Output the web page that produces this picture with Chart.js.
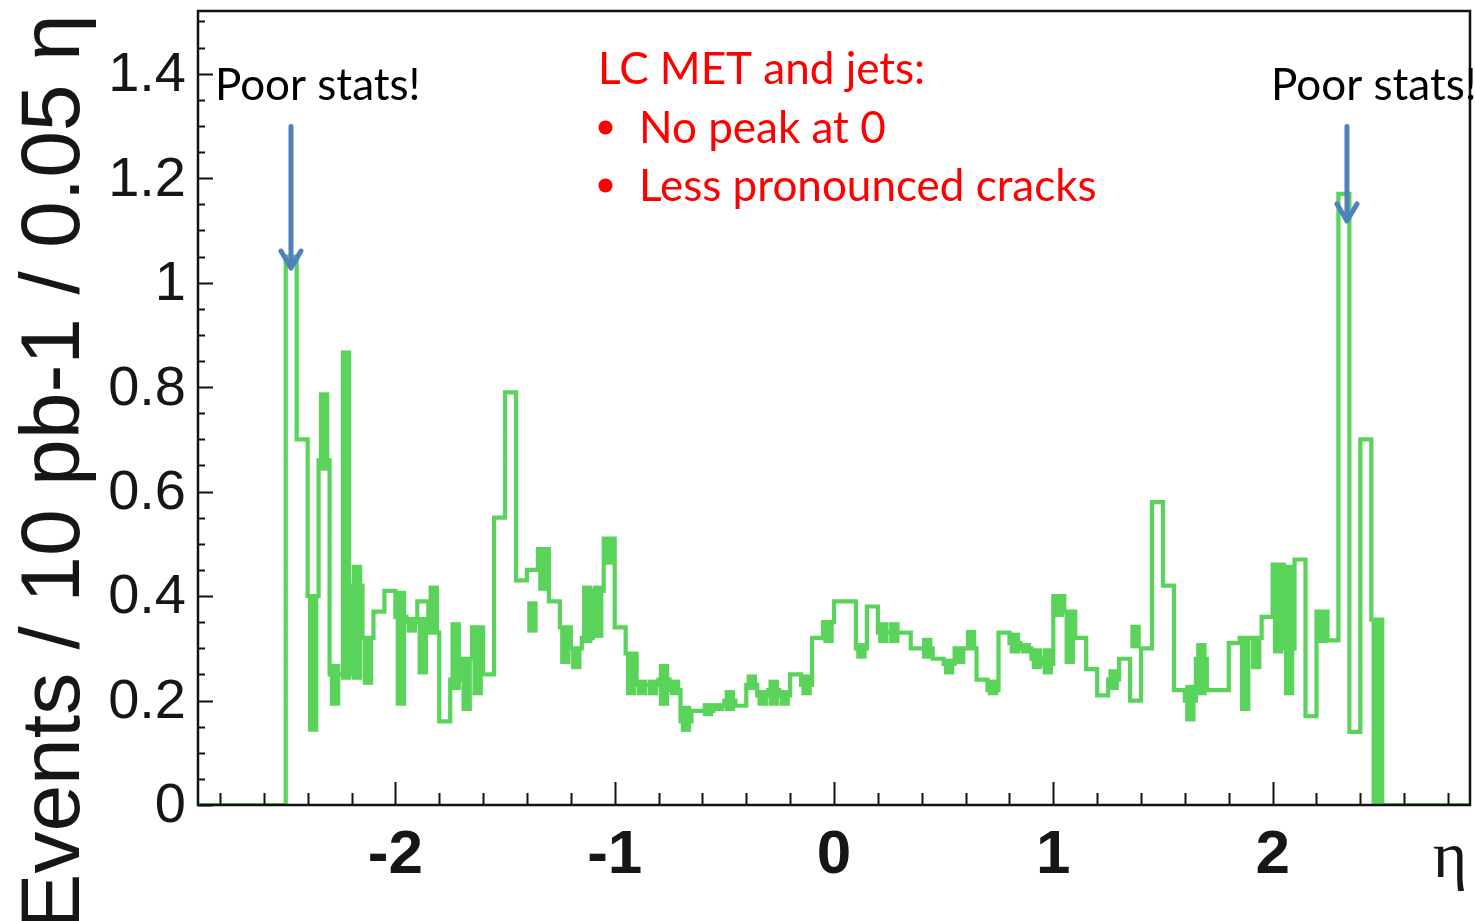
<!DOCTYPE html>
<html>
<head>
<meta charset="utf-8">
<title>LC MET and jets - eta</title>
<script src="https://cdn.jsdelivr.net/npm/chart.js@4.4.0/dist/chart.umd.min.js"></script>
<style>
  html, body { margin: 0; padding: 0; background: #fff; }
  #wrap { position: relative; width: 1475px; height: 921px; }
</style>
</head>
<body>
<div id="wrap"><canvas id="etaChart"></canvas></div>
<script>
// eta binning: 100 bins of 0.05 from -2.5 to 2.5, axis from -2.9 to 2.9
const etaStart = -2.5;
const etaWidth = 0.05;
const etaMin = -2.9;
const etaMax = 2.9;
const yMax = 1.52;

// step height of each bin (events / 10 pb-1 / 0.05 eta)
const events = [
  1.05, 0.70, 0.40, 0.66, 0.25, 0.25, 0.42, 0.32, 0.37, 0.41,
  0.36, 0.35, 0.39, 0.33, 0.16, 0.24, 0.28, 0.34, 0.25, 0.55,
  0.79, 0.43, 0.45, 0.49, 0.39, 0.34, 0.30, 0.32, 0.41, 0.51,
  0.34, 0.29, 0.23, 0.23, 0.24, 0.22, 0.16, 0.18, 0.18, 0.19,
  0.20, 0.19, 0.23, 0.21, 0.22, 0.21, 0.25, 0.23, 0.32, 0.35,
  0.39, 0.39, 0.30, 0.38, 0.33, 0.33, 0.33, 0.30, 0.30, 0.28,
  0.27, 0.30, 0.30, 0.24, 0.22, 0.33, 0.31, 0.30, 0.28, 0.27,
  0.40, 0.37, 0.32, 0.26, 0.21, 0.24, 0.28, 0.20, 0.30, 0.58,
  0.42, 0.22, 0.20, 0.28, 0.22, 0.22, 0.31, 0.32, 0.32, 0.36,
  0.46, 0.30, 0.47, 0.17, 0.37, 0.315, 1.17, 0.14, 0.70, 0.355
];

// bins where the fine structure shows as a solid band: low / high edge
const bandLow = [
  null, null, 0.14, 0.64, 0.19, 0.24, 0.24, 0.23, null, null,
  0.19, 0.33, 0.25, 0.33, null, 0.22, 0.18, 0.21, null, null,
  null, null, 0.33, 0.41, null, 0.27, 0.26, 0.31, 0.32, 0.46,
  null, 0.21, 0.21, 0.21, 0.19, 0.21, 0.14, null, 0.17, 0.18,
  0.18, null, 0.22, 0.19, 0.19, 0.19, null, 0.21, null, 0.31,
  null, null, 0.28, null, 0.31, 0.31, null, null, 0.28, null,
  0.25, 0.27, 0.30, null, 0.21, null, 0.29, 0.29, 0.26, 0.25,
  0.36, 0.27, null, null, null, 0.22, null, 0.30, null, null,
  null, null, 0.16, 0.21, null, null, null, 0.18, 0.26, null,
  0.29, 0.21, null, null, 0.31, null, null, null, null, 0
];
const bandHigh = [
  null, null, 0.40, 0.79, 0.27, 0.87, 0.46, 0.32, null, null,
  0.41, 0.36, 0.36, 0.42, null, 0.35, 0.28, 0.34, null, null,
  null, null, 0.39, 0.49, null, 0.34, 0.30, 0.42, 0.42, 0.51,
  null, 0.29, 0.24, 0.24, 0.27, 0.24, 0.19, null, 0.195, 0.195,
  0.22, null, 0.25, 0.22, 0.24, 0.22, null, 0.25, null, 0.35,
  null, null, 0.31, null, 0.35, 0.35, null, null, 0.32, null,
  0.28, 0.30, 0.335, null, 0.24, null, 0.33, 0.31, 0.30, 0.30,
  0.40, 0.37, null, null, null, 0.26, null, 0.345, null, null,
  null, null, 0.23, 0.31, null, null, null, 0.32, 0.32, null,
  0.46, 0.46, null, null, 0.37, null, null, null, null, 0.355
];

const yTicks = [0, 0.2, 0.4, 0.6, 0.8, 1, 1.2, 1.4];
const yTickLabels = ['0', '0.2', '0.4', '0.6', '0.8', '1', '1.2', '1.4'];
const xTicks = [-2, -1, 0, 1, 2];
const xTickLabels = ['-2', '-1', '0', '1', '2'];

const yTitle = 'Events / 10 pb-1 / 0.05 \u03b7';
const xTitle = '\u03b7';

// annotations in data coordinates
const notes = [
  { text: 'Poor stats!', x: -2.823, y: 1.349, color: '#000' },
  { text: 'Poor stats!', x: 1.993, y: 1.349, color: '#000' },
  { text: 'LC MET and jets:', x: -1.076, y: 1.380, color: '#ff0000' },
  { text: 'No peak at 0', x: -0.889, y: 1.268, color: '#ff0000' },
  { text: 'Less pronounced cracks', x: -0.889, y: 1.157, color: '#ff0000' }
];
const bullets = [
  { x: -1.042, y: 1.297 },
  { x: -1.042, y: 1.186 }
];
const arrows = [
  { x: -2.476, from: 1.299, to: 1.028 },
  { x: 2.339, from: 1.299, to: 1.118 }
];

const green = '#5ad35a';

// histogram outline as step points at bin lower edges
const stepPoints = [{ x: etaMin, y: 0 }];
events.forEach((v, i) => {
  stepPoints.push({ x: etaStart + i * etaWidth, y: v });
});
stepPoints.push({ x: etaStart + events.length * etaWidth, y: 0 });
stepPoints.push({ x: etaMax, y: 0 });

// solid bands as floating bars at bin centres
const bandPoints = [];
bandLow.forEach((lo, i) => {
  if (lo === null) return;
  bandPoints.push({ x: etaStart + (i + 0.5) * etaWidth, y: [lo, bandHigh[i]] });
});

// ROOT style frame, inward ticks, labels and notes
const rootAxes = {
  id: 'rootAxes',
  afterDraw(chart) {
    const { ctx, chartArea: a, scales: { x, y } } = chart;
    ctx.save();

    // ticks
    ctx.strokeStyle = '#111';
    ctx.lineWidth = 2;
    ctx.beginPath();
    for (let i = 0; i <= 30; i++) {
      const py = Math.round(y.getPixelForValue(i * 0.05)) + 0.5;
      const len = i % 4 === 0 ? 15 : 7;
      ctx.moveTo(a.left, py);
      ctx.lineTo(a.left + len, py);
    }
    for (let i = -14; i <= 14; i++) {
      const px = Math.round(x.getPixelForValue(i * 0.2)) + 0.5;
      const len = i % 5 === 0 ? 23 : 12;
      ctx.moveTo(px, a.bottom);
      ctx.lineTo(px, a.bottom - len);
    }
    ctx.stroke();

    // frame
    ctx.lineWidth = 2.5;
    ctx.strokeRect(a.left, a.top, a.right - a.left, a.bottom - a.top);

    // tick labels
    ctx.fillStyle = '#161616';
    ctx.font = '56px "Liberation Sans", Arial, sans-serif';
    ctx.textAlign = 'right';
    ctx.textBaseline = 'middle';
    yTicks.forEach((v, i) => {
      ctx.fillText(yTickLabels[i], a.left - 12, y.getPixelForValue(v) + 2);
    });
    ctx.font = 'bold 62px "Liberation Sans", Arial, sans-serif';
    ctx.textAlign = 'center';
    ctx.textBaseline = 'alphabetic';
    xTicks.forEach((v, i) => {
      ctx.fillText(xTickLabels[i], x.getPixelForValue(v), a.bottom + 68);
    });

    // axis titles
    ctx.font = '66px "Liberation Serif", serif';
    ctx.fillText(xTitle, a.right - 20, a.bottom + 72);
    ctx.save();
    ctx.translate(79, (a.top + chart.height) / 2 + 6);
    ctx.rotate(-Math.PI / 2);
    ctx.font = '84px "Liberation Sans", Arial, sans-serif';
    ctx.fillText(yTitle, 0, 0);
    ctx.restore();

    // annotations
    ctx.textAlign = 'left';
    ctx.font = '44px Lato, "Open Sans", sans-serif';
    notes.forEach(n => {
      ctx.fillStyle = n.color;
      ctx.fillText(n.text, x.getPixelForValue(n.x), y.getPixelForValue(n.y));
    });
    ctx.fillStyle = '#ff0000';
    bullets.forEach(b => {
      ctx.beginPath();
      ctx.arc(x.getPixelForValue(b.x), y.getPixelForValue(b.y), 7, 0, Math.PI * 2);
      ctx.fill();
    });

    // arrows
    ctx.strokeStyle = '#4f81bd';
    ctx.lineWidth = 5;
    ctx.lineCap = 'round';
    ctx.lineJoin = 'round';
    arrows.forEach(ar => {
      const px = x.getPixelForValue(ar.x);
      const top = y.getPixelForValue(ar.from);
      const tip = y.getPixelForValue(ar.to);
      ctx.beginPath();
      ctx.moveTo(px, top);
      ctx.lineTo(px, tip);
      ctx.moveTo(px - 10, tip - 17);
      ctx.lineTo(px, tip);
      ctx.lineTo(px + 10, tip - 17);
      ctx.stroke();
    });

    ctx.restore();
  }
};

const chart = new Chart(document.getElementById('etaChart'), {
  type: 'line',
  data: {
    datasets: [
      {
        type: 'line',
        label: 'LC MET and jets',
        data: stepPoints,
        stepped: 'before',
        borderColor: green,
        borderWidth: 4.2,
        pointRadius: 0,
        fill: false
      },
      {
        type: 'bar',
        label: 'bands',
        data: bandPoints,
        backgroundColor: green,
        borderWidth: 0,
        barPercentage: 0.95,
        categoryPercentage: 1
      }
    ]
  },
  options: {
    responsive: true,
    maintainAspectRatio: false,
    animation: false,
    layout: { padding: { left: 198, right: 5, top: 11, bottom: 116 } },
    plugins: { legend: { display: false }, tooltip: { enabled: false } },
    scales: {
      x: { type: 'linear', min: etaMin, max: etaMax, offset: false, display: false },
      y: { type: 'linear', min: 0, max: yMax, display: false }
    }
  },
  plugins: [rootAxes]
});
</script>
</body>
</html>
